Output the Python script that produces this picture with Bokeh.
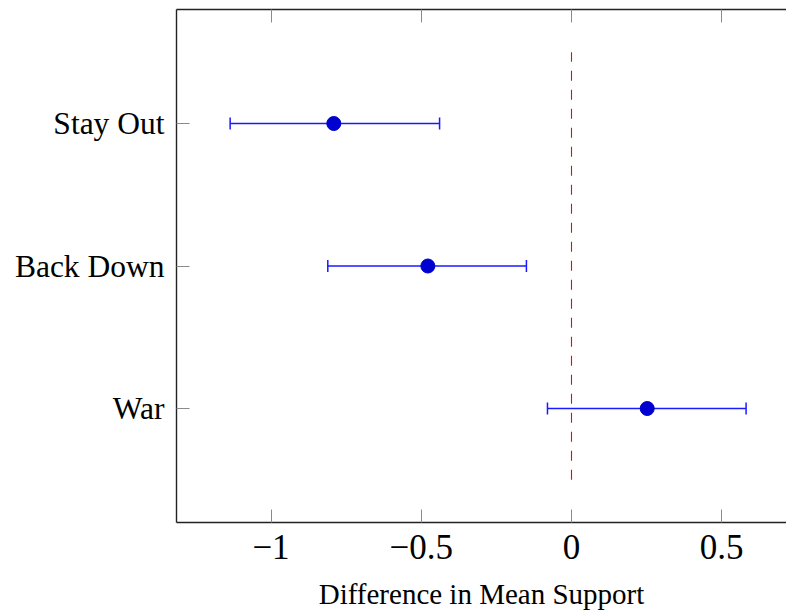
from bokeh.plotting import figure
from bokeh.models import (ColumnDataSource, Range1d, FixedTicker, LinearAxis, Whisker, TeeHead,
                          CustomJSTickFormatter)
from bokeh.embed import file_html
from bokeh.resources import INLINE

# ---- data ----
categories = ["War", "Back Down", "Stay Out"]
positions = [1, 2, 3]
means = [0.252, -0.478, -0.791]
lower = [-0.080, -0.811, -1.136]
upper = [0.581, -0.150, -0.439]
x_ticks = [-1, -0.5, 0, 0.5]
x_tick_labels = ["\u22121", "\u22120.5", "0", "0.5"]
ref_x = 0
ref_y_from = 0.5
ref_y_to = 3.5
x_label = "Difference in Mean Support"

src = ColumnDataSource(dict(y=positions, m=means, lo=lower, hi=upper))

p = figure(width=786, height=615, output_backend="svg", toolbar_location=None,
           x_range=Range1d(-1.3145, 0.7155), y_range=Range1d(0.2, 3.8),
           min_border_left=176, min_border_right=0, min_border_top=9, min_border_bottom=93,
           x_axis_label=x_label)
p.outline_line_color = None
p.grid.visible = False
p.background_fill_color = "white"
p.border_fill_color = "white"

FONT = "Liberation Serif"
AX_COLOR = "#222222"
TICK_COLOR = "#8a8a8a"

xa = p.xaxis[0]
xa.ticker = FixedTicker(ticks=x_ticks)
xa.major_label_overrides = {t: l for t, l in zip(x_ticks, x_tick_labels)}
xa.major_label_text_font = FONT
xa.major_label_text_font_size = "35px"
xa.major_label_standoff = 12
xa.axis_label_text_font = FONT
xa.axis_label_text_font_size = "29px"
xa.axis_label_text_font_style = "normal"
xa.axis_label_standoff = 16

ya = p.yaxis[0]
ya.ticker = FixedTicker(ticks=positions)
ya.major_label_overrides = {pp: c for pp, c in zip(positions, categories)}
ya.major_label_text_font = FONT
ya.major_label_text_font_size = "31.5px"
ya.major_label_standoff = 12

for ax in (xa, ya):
    ax.axis_line_color = AX_COLOR
    ax.axis_line_width = 1.4
    ax.major_tick_in = 13
    ax.major_tick_out = 0
    ax.major_tick_line_color = TICK_COLOR
    ax.major_tick_line_width = 1
    ax.minor_tick_line_color = None
    ax.major_label_text_color = "black"
    ax.axis_label_text_color = "black"

top = LinearAxis(ticker=FixedTicker(ticks=x_ticks), axis_line_color=AX_COLOR, axis_line_width=1.4,
                 major_tick_in=13, major_tick_out=0, major_tick_line_color=TICK_COLOR,
                 minor_tick_line_color=None,
                 formatter=CustomJSTickFormatter(code="return ''"),
                 major_label_text_font_size="1px", major_label_standoff=0)
p.add_layout(top, "above")

# reference line
p.segment(x0=[ref_x], y0=[ref_y_from], x1=[ref_x], y1=[ref_y_to],
          line_color="#ff0000", line_width=1.1, line_dash="10 9")

# error bars
BLUE = "#1a1aff"
wh = Whisker(source=src, base="y", lower="lo", upper="hi", dimension="width",
             line_color=BLUE, line_width=1.5,
             lower_head=TeeHead(size=12, line_color=BLUE, line_width=1.5),
             upper_head=TeeHead(size=12, line_color=BLUE, line_width=1.5))
p.add_layout(wh)

p.scatter(x="m", y="y", source=src, size=14, fill_color="#0000d0", line_color="#0000d0")

open("out.html", "w").write(file_html(p, INLINE))
